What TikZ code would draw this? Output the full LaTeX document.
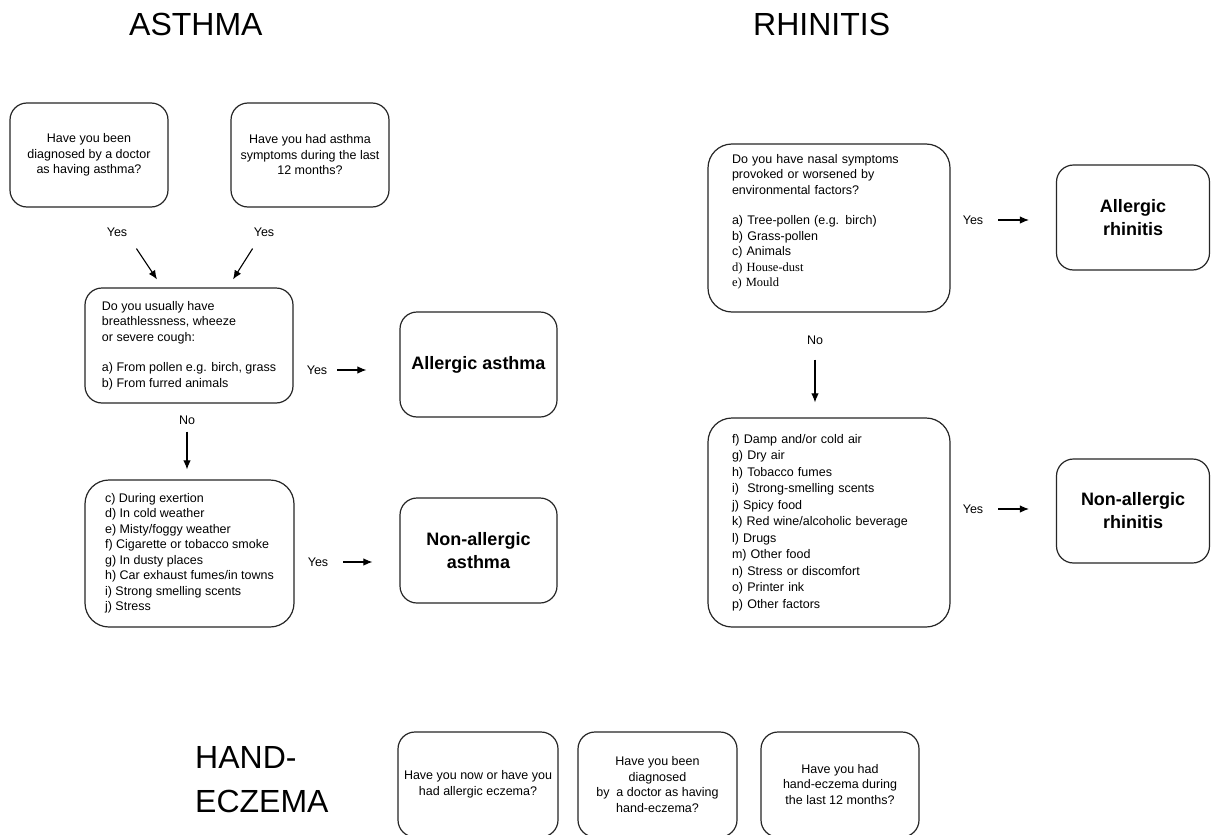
\documentclass[tikz,border=0pt]{standalone}
\usepackage{fontspec}
\setmainfont{Liberation Sans}
\newfontfamily\serifpart{Liberation Serif}
\usetikzlibrary{positioning,calc,arrows.meta}
\newcommand\qfont{\fontsize{12.5}{15.5}\selectfont}
\newcommand\qfontwide{\fontsize{12.5}{16.5}\selectfont}
\newcommand\rfont{\fontsize{18}{23}\selectfont\bfseries}
\newcommand\hfont{\fontsize{32}{40}\selectfont}
\tikzset{>={Latex[length=9pt,width=7.5pt]}}
\tikzset{
  box/.style={draw=black!85, line width=1.2pt, rounded corners=17pt, align=center,
    font=\qfont, inner sep=3pt},
  listbox/.style={box, align=left},
  result/.style={box, font=\rfont, minimum width=157pt, minimum height=105pt},
  answer/.style={font=\qfont, inner sep=1pt},
  heading/.style={font=\hfont, anchor=base west, inner sep=0pt},
  arr/.style={->, line width=1.1pt},
}
\begin{document}
\begin{tikzpicture}[x=1pt, y=-1pt]
  \useasboundingbox (0,0) rectangle (1211,835);
  \fill[white] (0,0) rectangle (1211,835);
  \clip (0,0) rectangle (1211,835);

  % asthma
  \node[heading] (asthma) at (129,35) {ASTHMA};
  \node[box, minimum width=158pt, minimum height=104pt] (diag) at (89,155)
    {Have you been\\diagnosed by a doctor\\as having asthma?};
  \node[box, minimum width=158pt, minimum height=104pt] (sympt) at (310,155)
    {Have you had asthma\\symptoms during the last\\12 months?};
  \node[answer] (yesdiag) at (117,232) {Yes};
  \node[answer] (yessympt) at (264,232) {Yes};
  \node[listbox, minimum width=208pt, minimum height=115pt] (wheeze) at (189,345.5)
    {Do you usually have\\breathlessness, wheeze\\or severe cough:\\[15pt]
     a) From pollen e.g. birch, grass\\b) From furred animals};
  \node[result] (allasth) at (478.5,364.5) {Allergic asthma};
  \node[answer] (yeswheeze) at (317,370) {Yes};
  \node[answer] (nowheeze) at (187,420) {No};
  \node[listbox, rounded corners=24pt, minimum width=209pt, minimum height=147pt]
    (triggers) at (189.5,553.5)
    {c) During exertion\\d) In cold weather\\e) Misty/foggy weather\\
     f) Cigarette or tobacco smoke\\g) In dusty places\\h) Car exhaust fumes/in towns\\
     i) Strong smelling scents\\j) Stress};
  \node[result] (nonasth) at (478.5,550.5) {Non-allergic\\asthma};
  \node[answer] (yestrig) at (318,562) {Yes};

  \draw[arr] ([shift={(8,11)}]yesdiag.south east) -- ([shift={(-32,-8)}]wheeze.north);
  \draw[arr] ([shift={(0,11)}]yessympt.south west) -- ([shift={(44,-8)}]wheeze.north);
  \draw[arr, shorten >=33pt] ([xshift=9pt]yeswheeze.east) -- (yeswheeze.east -| allasth.west);
  \draw[arr, shorten <=6pt, shorten >=10pt] (nowheeze.south) -- (nowheeze.south |- triggers.north);
  \draw[arr, shorten >=27pt] ([xshift=14pt]yestrig.east) -- (yestrig.east -| nonasth.west);

  % rhinitis
  \node[heading] (rhinitis) at (753,35) {RHINITIS};
  \node[listbox, rounded corners=24pt, text width=194pt, minimum width=242pt,
    minimum height=168pt] (nasal) at (829,228)
    {Do you have nasal symptoms\\provoked or worsened by\\environmental factors?\\[15pt]
     a) Tree-pollen (e.g. birch)\\b) Grass-pollen\\c) Animals\\
     {\serifpart d) House-dust}\\{\serifpart e) Mould}\\ \mbox{}};
  \node[result, minimum width=153pt] (allrhin) at (1133,217.5) {Allergic\\rhinitis};
  \node[answer] (yesnasal) at (973,220) {Yes};
  \node[answer] (nonasal) at (815,340) {No};
  \node[listbox, rounded corners=24pt, text width=194pt, minimum width=242pt,
    minimum height=209pt, font=\qfontwide] (nasaltrig) at (829,522.5)
    {f) Damp and/or cold air\\g) Dry air\\h) Tobacco fumes\\i)\ \ Strong-smelling scents\\
     j) Spicy food\\k) Red wine/alcoholic beverage\\l) Drugs\\m) Other food\\
     n) Stress or discomfort\\o) Printer ink\\p) Other factors};
  \node[result, minimum width=153pt, minimum height=104pt] (nonrhin) at (1133,511)
    {Non-allergic\\rhinitis};
  \node[answer] (yesnasaltrig) at (973,509) {Yes};

  \draw[arr, shorten >=27pt] ([xshift=14pt]yesnasal.east) -- (yesnasal.east -| allrhin.west);
  \draw[arr, shorten <=14pt, shorten >=15pt] (nonasal.south) -- (nonasal.south |- nasaltrig.north);
  \draw[arr, shorten >=27pt] ([xshift=14pt]yesnasaltrig.east) -- (yesnasaltrig.east -| nonrhin.west);

  % hand-eczema
  \node[heading] (hand) at (195,768) {HAND-};
  \node[heading] (eczema) at (195,812) {ECZEMA};
  \node[box, minimum width=160pt, minimum height=105pt] (eczallerg) at (478,784.5)
    {Have you now or have you\\had allergic eczema?};
  \node[box, minimum width=159pt, minimum height=105pt] (eczdoctor) at (657.5,784.5)
    {Have you been\\diagnosed\\by\ \ a doctor as having\\hand-eczema?};
  \node[box, minimum width=158pt, minimum height=105pt] (eczyear) at (840,784.5)
    {Have you had\\hand-eczema during\\the last 12 months?};
\end{tikzpicture}
\end{document}
